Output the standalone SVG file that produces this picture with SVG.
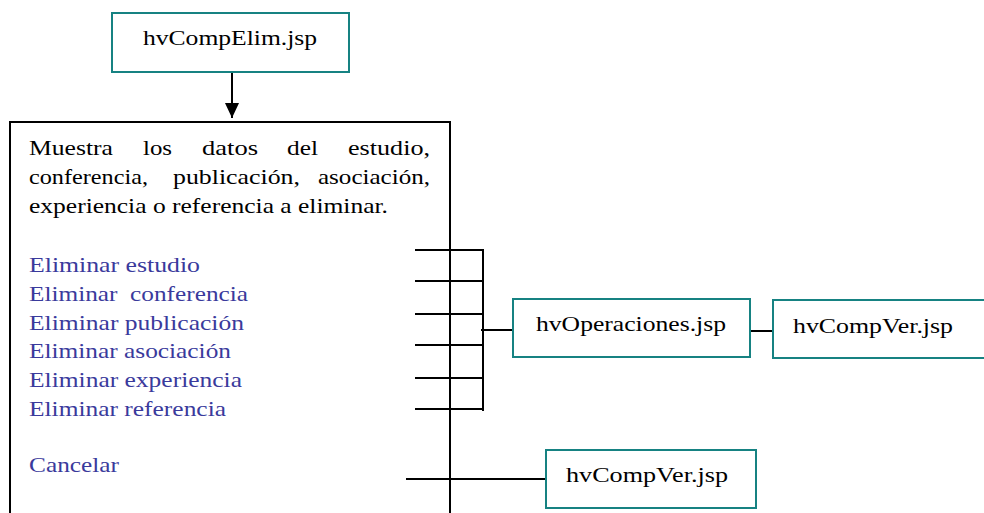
<svg xmlns="http://www.w3.org/2000/svg" width="984" height="513" viewBox="0 0 984 513">
<style>
  .bg{fill:#ffffff}
  .jsp{fill:#ffffff;stroke:#168282;stroke-width:2}
  .main{fill:#ffffff;stroke:#000000;stroke-width:2}
  .ln{stroke:#000000;stroke-width:2;fill:none}
  text{font-family:"Liberation Serif","Times New Roman",serif;font-size:21.5px;fill:#000000}
  .lnk{fill:#3a3a9c;white-space:pre}
</style>
<defs>
  <marker id="arr" viewBox="0 0 15 14" refX="15" refY="7" markerWidth="15" markerHeight="14" markerUnits="userSpaceOnUse" orient="auto">
    <path d="M0,0 L15,7 L0,14 Z" fill="#000000"/>
  </marker>
</defs>
<rect class="bg" x="0" y="0" width="984" height="513"/>

<g id="main-page">
  <rect class="main" x="10" y="122" width="440" height="420"/>
  <text x="29" y="155" textLength="84" lengthAdjust="spacingAndGlyphs">Muestra</text>
  <text x="143" y="155" textLength="29" lengthAdjust="spacingAndGlyphs">los</text>
  <text x="202" y="155" textLength="56" lengthAdjust="spacingAndGlyphs">datos</text>
  <text x="287" y="155" textLength="31" lengthAdjust="spacingAndGlyphs">del</text>
  <text x="348" y="155" textLength="82" lengthAdjust="spacingAndGlyphs">estudio,</text>
  <text x="29" y="184" textLength="119" lengthAdjust="spacingAndGlyphs">conferencia,</text>
  <text x="173" y="184" textLength="127" lengthAdjust="spacingAndGlyphs">publicación,</text>
  <text x="318" y="184" textLength="112" lengthAdjust="spacingAndGlyphs">asociación,</text>
  <text x="29" y="213" textLength="359" lengthAdjust="spacingAndGlyphs">experiencia o referencia a eliminar.</text>
  <text class="lnk" x="29" y="272" textLength="171" lengthAdjust="spacingAndGlyphs">Eliminar estudio</text>
  <text class="lnk" x="29" y="301" textLength="219" lengthAdjust="spacingAndGlyphs">Eliminar  conferencia</text>
  <text class="lnk" x="29" y="330" textLength="215" lengthAdjust="spacingAndGlyphs">Eliminar publicación</text>
  <text class="lnk" x="29" y="358" textLength="202" lengthAdjust="spacingAndGlyphs">Eliminar asociación</text>
  <text class="lnk" x="29" y="387" textLength="213" lengthAdjust="spacingAndGlyphs">Eliminar experiencia</text>
  <text class="lnk" x="29" y="416" textLength="197" lengthAdjust="spacingAndGlyphs">Eliminar referencia</text>
  <text class="lnk" x="29" y="472" textLength="90" lengthAdjust="spacingAndGlyphs">Cancelar</text>
</g>

<g id="connectors">
  <line class="ln" x1="232" y1="72" x2="232" y2="118" marker-end="url(#arr)"/>
  <line class="ln" x1="415" y1="250" x2="483" y2="250"/>
  <line class="ln" x1="415" y1="281" x2="483" y2="281"/>
  <line class="ln" x1="415" y1="314" x2="483" y2="314"/>
  <line class="ln" x1="415" y1="345" x2="483" y2="345"/>
  <line class="ln" x1="415" y1="378" x2="483" y2="378"/>
  <line class="ln" x1="415" y1="409" x2="483" y2="409"/>
  <line class="ln" x1="483" y1="249" x2="483" y2="411"/>
  <line class="ln" x1="481" y1="330" x2="514" y2="330"/>
  <line class="ln" x1="750" y1="331" x2="773" y2="331"/>
  <line class="ln" x1="406" y1="479" x2="546" y2="479"/>
</g>

<g id="hvCompElim">
  <rect class="jsp" x="112" y="13" width="237" height="59"/>
  <text x="143" y="45" textLength="174" lengthAdjust="spacingAndGlyphs">hvCompElim.jsp</text>
</g>

<g id="hvOperaciones">
  <rect class="jsp" x="513" y="299" width="237" height="58"/>
  <text x="536" y="331" textLength="190" lengthAdjust="spacingAndGlyphs">hvOperaciones.jsp</text>
</g>

<g id="hvCompVer-right">
  <rect class="jsp" x="773" y="300" width="215" height="58"/>
  <text x="793" y="333" textLength="160" lengthAdjust="spacingAndGlyphs">hvCompVer.jsp</text>
</g>

<g id="hvCompVer-bottom">
  <rect class="jsp" x="546" y="450" width="210" height="58"/>
  <text x="566" y="482" textLength="162" lengthAdjust="spacingAndGlyphs">hvCompVer.jsp</text>
</g>
</svg>
